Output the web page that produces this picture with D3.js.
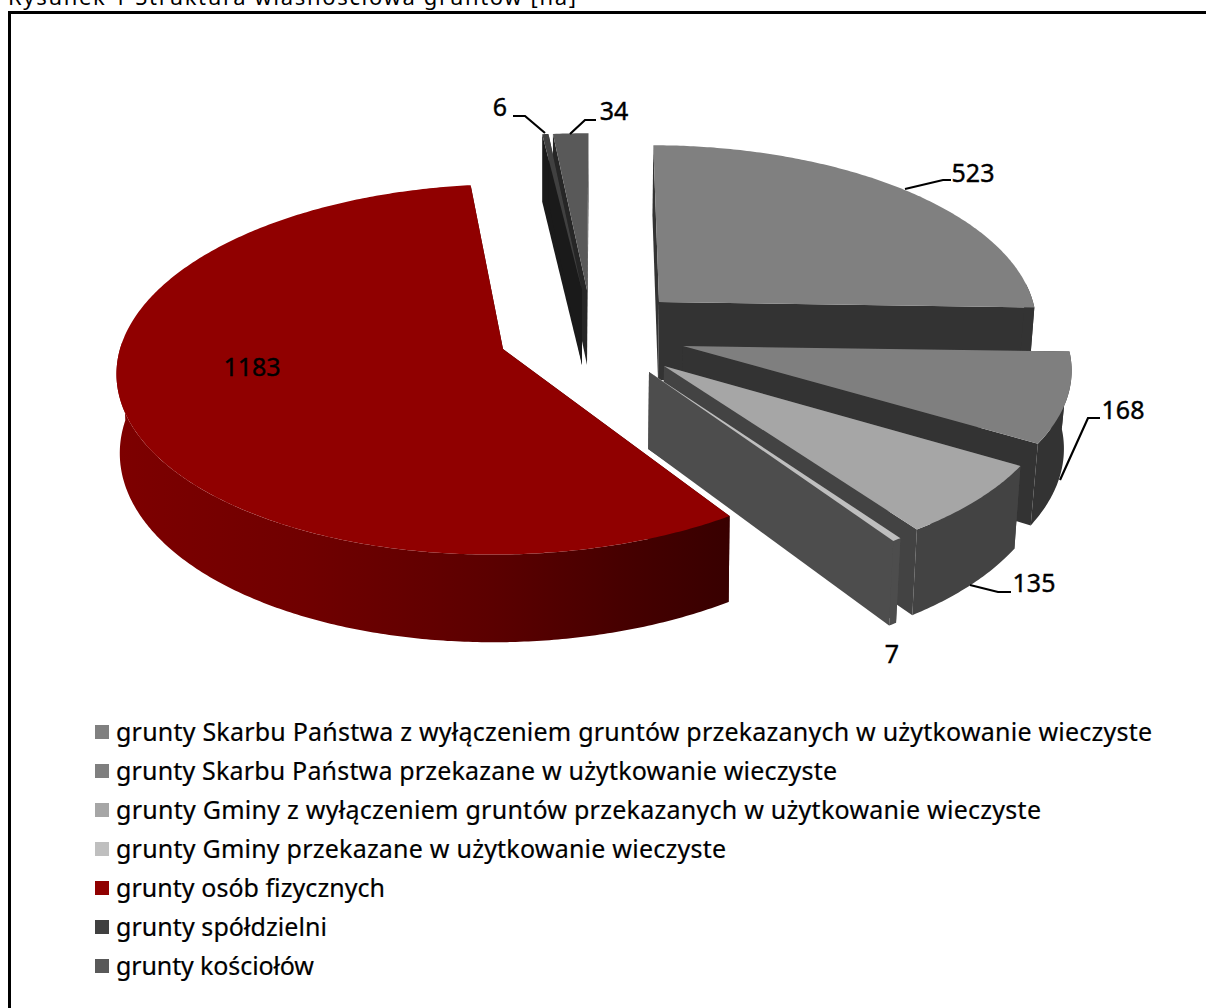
<!DOCTYPE html>
<html lang="pl">
<head>
<meta charset="utf-8">
<script src="https://cdn.jsdelivr.net/npm/d3@7"></script>
<style>
html,body{margin:0;padding:0;background:#fff;overflow:hidden}
svg{display:block}
text{font-family:"Noto Sans",sans-serif;fill:#000}
</style>
</head>
<body>
<svg id="chart" width="1206" height="1008"></svg>
<script>
const titleText = "Rysunek 1 Struktura własnościowa gruntów [ha]";
const categories = [
  "grunty Skarbu Państwa z wyłączeniem gruntów przekazanych w użytkowanie wieczyste",
  "grunty Skarbu Państwa przekazane w użytkowanie wieczyste",
  "grunty Gminy z wyłączeniem gruntów przekazanych w użytkowanie wieczyste",
  "grunty Gminy przekazane w użytkowanie wieczyste",
  "grunty osób fizycznych",
  "grunty spółdzielni",
  "grunty kościołów"
];
const values = [523, 168, 135, 7, 1183, 6, 34];

// styles and layout, kept apart from the data
const topColors  = ["#808080", "#7f7f7f", "#a6a6a6", "#bfbfbf", "#900000", "#404040", "#595959"];
const faceColors = ["#333333", "#333333", "#434343", "#4d4d4d", "#3a0000", "#1a1a1a", "#262626"];
const legendWidths = [1036, 721, 925, 610, 269, 211, 198];
const explodedSlices = [
  {cx: 659, cy: 302, rx: 374, ry: 174, depth: 78, lean: 0.014},
  {cx: 683, cy: 346, rx: 385, ry: 178, depth: 77, lean: 0.016},
  {cx: 664, cy: 366, rx: 388, ry: 182, depth: 78, lean: 0.014},
  {cx: 649, cy: 372, rx: 388, ry: 185, depth: 77, lean: 0.014},
  {cx: 503, cy: 349, rx: 383, ry: 183, depth: 78, lean: 0.007},
  {cx: 582, cy: 290, rx: 380, ry: 174, depth: 75, lean: 0},
  {cx: 587, cy: 290, rx: 380, ry: 174, depth: 75, lean: 0}
];
const labelPlacement = [
  {x: 973,  y: 182, leader: [[905, 189], [943, 180], [951, 180]]},
  {x: 1123, y: 419, leader: [[1060, 480], [1088, 418], [1100, 418]]},
  {x: 1034, y: 592, leader: [[970, 585], [998, 592], [1011, 592]]},
  {x: 892,  y: 663, leader: []},
  {x: 252,  y: 376, leader: []},
  {x: 500,  y: 116, leader: [[513, 116], [525, 116], [545, 133]]},
  {x: 614,  y: 120, leader: [[570, 134], [585, 120], [596, 120]]}
];
const redSideStops = [[0, "#7d0000"], [0.3, "#700000"], [0.6, "#5c0000"], [0.85, "#440000"], [1, "#380000"]];
const perspective = 0.11;
const viewCentreX = 590;
const rotation = 0.2 * Math.PI / 180;

const svg = d3.select("#chart");
const defs = svg.append("defs");
const redGrad = defs.append("linearGradient").attr("id", "redSide")
  .attr("gradientUnits", "userSpaceOnUse").attr("x1", 120).attr("x2", 730).attr("y1", 0).attr("y2", 0);
redSideStops.forEach(s => redGrad.append("stop").attr("offset", s[0]).attr("stop-color", s[1]));

// title (clipped by the top of the picture, as in the reference) and frame
svg.append("text").attr("x", 8).attr("y", 5).attr("font-size", 22)
  .attr("textLength", 568).attr("lengthAdjust", "spacing").text(titleText);
svg.append("rect").attr("x", 9.5).attr("y", 12.5).attr("width", 1300).attr("height", 1100)
  .attr("fill", "none").attr("stroke", "#000").attr("stroke-width", 3);

function project(s, th, r, z) {
  const u = Math.sin(th) * r, v = Math.cos(th) * r, w = 1 + perspective * v;
  const x = viewCentreX + ((s.cx - viewCentreX) + s.rx * u) / w;
  return [viewCentreX + (x - viewCentreX) * (1 - s.lean * z),
          s.cy - s.ry * v / w + z * s.depth / w];
}
const line = d3.line();
const pie = d3.pie().sort(null).value(d => d).startAngle(rotation).endAngle(rotation + 2 * Math.PI);
const arcs = pie(values);
const arcPts = (s, a0, a1, z) => {
  const n = Math.max(2, Math.ceil((a1 - a0) / 0.01));
  return d3.range(n + 1).map(i => project(s, a0 + (a1 - a0) * i / n, 1, z));
};

// far slices first, then clockwise, the way the reference stacks them
const order = [6, 5, 0, 1, 2, 3, 4];
const rimFrom = 84 * Math.PI / 180, rimTo = 272 * Math.PI / 180;
order.forEach(i => {
  const a = arcs[i], s = explodedSlices[i];
  const g = svg.append("g").attr("class", "slice");
  const fill = i === 4 ? "url(#redSide)" : faceColors[i];
  [a.startAngle, a.endAngle].forEach(th => {
    const face = [project(s, th, 0, 0), project(s, th, 1, 0), project(s, th, 1, 1), project(s, th, 0, 1)];
    g.append("path").attr("d", line(face) + "Z").attr("fill", faceColors[i]);
  });
  const r0 = Math.max(a.startAngle, rimFrom), r1 = Math.min(a.endAngle, rimTo);
  if (r1 > r0) {
    const rim = arcPts(s, r0, r1, 0).concat(arcPts(s, r0, r1, 1).reverse());
    g.append("path").attr("d", line(rim) + "Z").attr("fill", fill);
  }
  const top = [project(s, 0, 0, 0)].concat(arcPts(s, a.startAngle, a.endAngle, 0));
  g.append("path").attr("d", line(top) + "Z").attr("fill", topColors[i]);
});

// data labels and leader lines
values.forEach((v, i) => {
  const p = labelPlacement[i];
  if (p.leader.length) {
    svg.append("path").attr("d", line(p.leader)).attr("fill", "none")
      .attr("stroke", "#000").attr("stroke-width", 2.2);
  }
  svg.append("text").attr("x", p.x).attr("y", p.y).attr("text-anchor", "middle")
    .attr("font-size", 25).attr("stroke", "#000").attr("stroke-width", 0.4).text(v);
});

// legend
const legendY = d3.scalePoint().domain(categories).range([732, 966]);
const legend = svg.append("g").selectAll("g").data(categories).join("g")
  .attr("transform", d => `translate(0,${legendY(d)})`);
legend.append("rect").attr("x", 95).attr("y", -7).attr("width", 14).attr("height", 14)
  .attr("fill", (d, i) => topColors[i]);
legend.append("text").attr("x", 116).attr("y", 9).attr("font-size", 25)
  .attr("stroke", "#000").attr("stroke-width", 0.2)
  .attr("textLength", (d, i) => legendWidths[i]).attr("lengthAdjust", "spacing").text(d => d);
</script>
</body>
</html>
